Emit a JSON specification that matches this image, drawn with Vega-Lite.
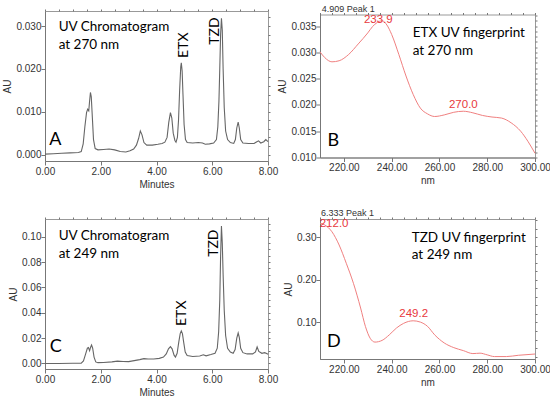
{
  "$schema": "https://vega.github.io/schema/vega-lite/v6.json",
  "background": "white",
  "padding": {"left": 2, "top": 4, "right": 0, "bottom": 0},
  "columns": 2,
  "bounds": "flush",
  "center": true,
  "spacing": {"row": 58, "column": 52},
  "datasets": {
    "chromA": [
      {"t": 0.0, "au": 0.0001}, {"t": 0.3, "au": 0.0002}, {"t": 0.6, "au": 0.0003}, {"t": 0.9, "au": 0.0004},
      {"t": 1.2, "au": 0.0005}, {"t": 1.3, "au": 0.0007}, {"t": 1.37, "au": 0.0025}, {"t": 1.43, "au": 0.0065},
      {"t": 1.49, "au": 0.0098}, {"t": 1.53, "au": 0.0106}, {"t": 1.57, "au": 0.0102}, {"t": 1.6, "au": 0.0125},
      {"t": 1.63, "au": 0.0145}, {"t": 1.66, "au": 0.0135}, {"t": 1.7, "au": 0.0085}, {"t": 1.74, "au": 0.0035},
      {"t": 1.8, "au": 0.0014}, {"t": 1.9, "au": 0.0011}, {"t": 2.1, "au": 0.0012}, {"t": 2.3, "au": 0.0013},
      {"t": 2.5, "au": 0.0011}, {"t": 2.7, "au": 0.0007}, {"t": 2.9, "au": 0.0006}, {"t": 3.05, "au": 0.0009},
      {"t": 3.18, "au": 0.0013}, {"t": 3.28, "au": 0.0022}, {"t": 3.36, "au": 0.0038}, {"t": 3.42, "au": 0.0055},
      {"t": 3.48, "au": 0.0046}, {"t": 3.55, "au": 0.0028}, {"t": 3.65, "au": 0.0022}, {"t": 3.85, "au": 0.0022},
      {"t": 4.05, "au": 0.0024}, {"t": 4.2, "au": 0.0026}, {"t": 4.3, "au": 0.0029}, {"t": 4.38, "au": 0.004},
      {"t": 4.44, "au": 0.0075}, {"t": 4.5, "au": 0.0098}, {"t": 4.55, "au": 0.0085}, {"t": 4.6, "au": 0.005},
      {"t": 4.66, "au": 0.0033}, {"t": 4.7, "au": 0.0029}, {"t": 4.75, "au": 0.004}, {"t": 4.79, "au": 0.008},
      {"t": 4.83, "au": 0.015}, {"t": 4.87, "au": 0.0205}, {"t": 4.89, "au": 0.0214}, {"t": 4.92, "au": 0.0195},
      {"t": 4.95, "au": 0.014}, {"t": 4.99, "au": 0.007}, {"t": 5.04, "au": 0.0035}, {"t": 5.1, "au": 0.0028},
      {"t": 5.3, "au": 0.0027}, {"t": 5.5, "au": 0.0028}, {"t": 5.65, "au": 0.0027}, {"t": 5.75, "au": 0.0024},
      {"t": 5.9, "au": 0.0025}, {"t": 6.05, "au": 0.0027}, {"t": 6.15, "au": 0.0035}, {"t": 6.2, "au": 0.0065},
      {"t": 6.24, "au": 0.0125}, {"t": 6.27, "au": 0.02}, {"t": 6.3, "au": 0.028}, {"t": 6.33, "au": 0.0318},
      {"t": 6.36, "au": 0.029}, {"t": 6.39, "au": 0.02}, {"t": 6.43, "au": 0.011}, {"t": 6.48, "au": 0.0055},
      {"t": 6.55, "au": 0.0035}, {"t": 6.65, "au": 0.0028}, {"t": 6.77, "au": 0.0026}, {"t": 6.83, "au": 0.0035},
      {"t": 6.88, "au": 0.0062}, {"t": 6.93, "au": 0.0076}, {"t": 6.97, "au": 0.0062}, {"t": 7.02, "au": 0.0035},
      {"t": 7.1, "au": 0.0027}, {"t": 7.3, "au": 0.0026}, {"t": 7.5, "au": 0.0026}, {"t": 7.6, "au": 0.003},
      {"t": 7.66, "au": 0.0032}, {"t": 7.74, "au": 0.0027}, {"t": 7.85, "au": 0.003}, {"t": 7.92, "au": 0.0035},
      {"t": 8.0, "au": 0.003}
    ],
    "chromC": [
      {"t": 0.0, "au": 0.0}, {"t": 0.5, "au": 0.0}, {"t": 1.0, "au": 0.0001}, {"t": 1.3, "au": 0.0002},
      {"t": 1.38, "au": 0.002}, {"t": 1.45, "au": 0.007}, {"t": 1.52, "au": 0.012}, {"t": 1.56, "au": 0.0125},
      {"t": 1.6, "au": 0.01}, {"t": 1.64, "au": 0.013}, {"t": 1.67, "au": 0.0145}, {"t": 1.71, "au": 0.012},
      {"t": 1.76, "au": 0.005}, {"t": 1.82, "au": 0.0012}, {"t": 1.9, "au": 0.0006}, {"t": 2.1, "au": 0.0007},
      {"t": 2.4, "au": 0.0012}, {"t": 2.6, "au": 0.0018}, {"t": 2.8, "au": 0.0015}, {"t": 3.0, "au": 0.0014},
      {"t": 3.2, "au": 0.0022}, {"t": 3.4, "au": 0.003}, {"t": 3.55, "au": 0.0038}, {"t": 3.7, "au": 0.0035},
      {"t": 3.9, "au": 0.0035}, {"t": 4.1, "au": 0.004}, {"t": 4.25, "au": 0.005}, {"t": 4.35, "au": 0.0075},
      {"t": 4.43, "au": 0.0115}, {"t": 4.5, "au": 0.0133}, {"t": 4.56, "au": 0.0115}, {"t": 4.63, "au": 0.0065},
      {"t": 4.68, "au": 0.005}, {"t": 4.74, "au": 0.008}, {"t": 4.8, "au": 0.017}, {"t": 4.85, "au": 0.0235},
      {"t": 4.89, "au": 0.0256}, {"t": 4.93, "au": 0.0235}, {"t": 4.98, "au": 0.016}, {"t": 5.03, "au": 0.009},
      {"t": 5.1, "au": 0.0062}, {"t": 5.3, "au": 0.0055}, {"t": 5.55, "au": 0.0058}, {"t": 5.68, "au": 0.0068},
      {"t": 5.78, "au": 0.006}, {"t": 5.95, "au": 0.007}, {"t": 6.1, "au": 0.008}, {"t": 6.18, "au": 0.012},
      {"t": 6.23, "au": 0.025}, {"t": 6.27, "au": 0.05}, {"t": 6.3, "au": 0.085}, {"t": 6.33, "au": 0.1085},
      {"t": 6.36, "au": 0.095}, {"t": 6.39, "au": 0.07}, {"t": 6.43, "au": 0.042}, {"t": 6.48, "au": 0.022},
      {"t": 6.55, "au": 0.012}, {"t": 6.65, "au": 0.009}, {"t": 6.75, "au": 0.008}, {"t": 6.82, "au": 0.011},
      {"t": 6.88, "au": 0.02}, {"t": 6.93, "au": 0.024}, {"t": 6.97, "au": 0.0205}, {"t": 7.02, "au": 0.012},
      {"t": 7.1, "au": 0.0085}, {"t": 7.25, "au": 0.0075}, {"t": 7.45, "au": 0.0075}, {"t": 7.55, "au": 0.009},
      {"t": 7.61, "au": 0.013}, {"t": 7.67, "au": 0.0095}, {"t": 7.78, "au": 0.008}, {"t": 7.88, "au": 0.0085},
      {"t": 7.95, "au": 0.0078}, {"t": 8.0, "au": 0.0072}
    ],
    "specB": [
      {"nm": 210, "au": 0.0301}, {"nm": 212, "au": 0.029}, {"nm": 215, "au": 0.0282}, {"nm": 218, "au": 0.0284},
      {"nm": 222, "au": 0.0296}, {"nm": 226, "au": 0.0316}, {"nm": 230, "au": 0.0337}, {"nm": 232, "au": 0.0349},
      {"nm": 234, "au": 0.0357}, {"nm": 236, "au": 0.036}, {"nm": 238, "au": 0.0352}, {"nm": 240, "au": 0.0334},
      {"nm": 243, "au": 0.0296}, {"nm": 246, "au": 0.0255}, {"nm": 249, "au": 0.022}, {"nm": 252, "au": 0.0194},
      {"nm": 255, "au": 0.0183}, {"nm": 258, "au": 0.0178}, {"nm": 262, "au": 0.0181}, {"nm": 266, "au": 0.0186},
      {"nm": 270, "au": 0.0188}, {"nm": 274, "au": 0.0185}, {"nm": 278, "au": 0.018}, {"nm": 282, "au": 0.0177},
      {"nm": 286, "au": 0.0175}, {"nm": 290, "au": 0.0166}, {"nm": 294, "au": 0.015}, {"nm": 297, "au": 0.0131},
      {"nm": 300, "au": 0.0108}
    ],
    "specD": [
      {"nm": 210, "au": 0.333}, {"nm": 212, "au": 0.329}, {"nm": 215, "au": 0.313}, {"nm": 218, "au": 0.282},
      {"nm": 221, "au": 0.239}, {"nm": 224, "au": 0.192}, {"nm": 227, "au": 0.134}, {"nm": 229, "au": 0.091},
      {"nm": 231, "au": 0.063}, {"nm": 233, "au": 0.054}, {"nm": 236, "au": 0.058}, {"nm": 239, "au": 0.071},
      {"nm": 242, "au": 0.087}, {"nm": 245, "au": 0.098}, {"nm": 249, "au": 0.104}, {"nm": 252, "au": 0.101},
      {"nm": 255, "au": 0.091}, {"nm": 258, "au": 0.071}, {"nm": 262, "au": 0.052}, {"nm": 266, "au": 0.041},
      {"nm": 270, "au": 0.034}, {"nm": 274, "au": 0.027}, {"nm": 277, "au": 0.028}, {"nm": 280, "au": 0.024},
      {"nm": 283, "au": 0.02}, {"nm": 288, "au": 0.02}, {"nm": 293, "au": 0.023}, {"nm": 300, "au": 0.026}
    ]
  },
  "concat": [
    {
      "width": 223, "height": 150,
      "resolve": {"axis": {"x": "independent", "y": "independent"}},
      "layer": [
        {
          "data": {"name": "chromA"},
          "mark": {"type": "line", "color": "#666666", "strokeWidth": 1.1},
          "encoding": {
            "x": {"field": "t", "type": "quantitative", "scale": {"domain": [0, 8], "nice": false, "zero": false},
                  "axis": {"values": [0, 2, 4, 6, 8], "format": ".2f", "title": "Minutes", "tickSize": 4, "labelPadding": 1, "titlePadding": 3}},
            "y": {"field": "au", "type": "quantitative", "scale": {"domain": [-0.0015, 0.0335], "nice": false, "zero": false},
                  "axis": {"values": [0, 0.01, 0.02, 0.03], "format": ".3f", "title": "AU", "tickSize": 4, "labelPadding": 0, "titlePadding": 3}}
          }
        },
        {
          "data": {"values": [{"x": 0.49, "y": 0.0297, "label": "UV Chromatogram"}, {"x": 0.49, "y": 0.02552, "label": "at 270 nm"}]},
          "mark": {"type": "text", "font": "Lato", "fontSize": 13.5, "align": "left", "baseline": "middle", "color": "#000000"},
          "encoding": {
            "x": {"field": "x", "type": "quantitative", "axis": {"values": [0, 0.5, 1, 1.5, 2, 2.5, 3, 3.5, 4, 4.5, 5, 5.5, 6, 6.5, 7, 7.5, 8], "labels": false, "domain": false, "tickSize": 2, "title": null}},
            "y": {"field": "y", "type": "quantitative", "axis": {"values": [0, 0.002, 0.004, 0.006, 0.008, 0.01, 0.012, 0.014, 0.016, 0.018, 0.02, 0.022, 0.024, 0.026, 0.028, 0.03, 0.032], "labels": false, "domain": false, "tickSize": 2, "title": null}},
            "text": {"field": "label"}
          }
        },
        {
          "data": {"values": [{"x": 0.37, "y": 0.00331, "label": "A"}]},
          "mark": {"type": "text", "font": "Lato", "fontSize": 18, "align": "center", "baseline": "middle", "color": "#000000"},
          "encoding": {
            "x": {"field": "x", "type": "quantitative", "axis": null},
            "y": {"field": "y", "type": "quantitative", "axis": null},
            "text": {"field": "label"}
          }
        },
        {
          "data": {"values": [{"x": 4.99, "y": 0.02552, "label": "ETX"}, {"x": 6.1, "y": 0.02883, "label": "TZD"}]},
          "mark": {"type": "text", "font": "Lato", "fontSize": 14, "angle": 270, "align": "center", "baseline": "middle", "color": "#000000"},
          "encoding": {
            "x": {"field": "x", "type": "quantitative", "axis": null},
            "y": {"field": "y", "type": "quantitative", "axis": null},
            "text": {"field": "label"}
          }
        }
      ]
    },
    {
      "width": 215, "height": 143,
      "resolve": {"axis": {"x": "independent", "y": "independent"}},
      "layer": [
        {
          "data": {"name": "specB"},
          "mark": {"type": "line", "color": "#f08080", "strokeWidth": 1, "interpolate": "monotone"},
          "encoding": {
            "x": {"field": "nm", "type": "quantitative", "scale": {"domain": [210, 300], "nice": false, "zero": false},
                  "axis": {"values": [220, 240, 260, 280, 300], "format": ".2f", "title": "nm", "tickSize": 4, "labelPadding": 1, "titlePadding": 3}},
            "y": {"field": "au", "type": "quantitative", "scale": {"domain": [0.01, 0.0372], "nice": false, "zero": false},
                  "axis": {"values": [0.01, 0.015, 0.02, 0.025, 0.03, 0.035], "format": ".3f", "title": "AU", "tickSize": 4, "labelPadding": 0, "titlePadding": 3}}
          }
        },
        {
          "data": {"values": [{"x": 248.8, "y": 0.0336, "label": "ETX UV fingerprint"}, {"x": 248.8, "y": 0.0302, "label": "at 270 nm"}]},
          "mark": {"type": "text", "font": "Lato", "fontSize": 13.5, "align": "left", "baseline": "middle", "color": "#000000"},
          "encoding": {
            "x": {"field": "x", "type": "quantitative", "axis": {"values": [210, 215, 220, 225, 230, 235, 240, 245, 250, 255, 260, 265, 270, 275, 280, 285, 290, 295, 300], "labels": false, "domain": false, "tickSize": 2, "title": null}},
            "y": {"field": "y", "type": "quantitative", "axis": {"values": [0.01, 0.011, 0.012, 0.013, 0.014, 0.015, 0.016, 0.017, 0.018, 0.019, 0.02, 0.021, 0.022, 0.023, 0.024, 0.025, 0.026, 0.027, 0.028, 0.029, 0.03, 0.031, 0.032, 0.033, 0.034, 0.035, 0.036, 0.037], "labels": false, "domain": false, "tickSize": 2, "title": null}},
            "text": {"field": "label"}
          }
        },
        {
          "data": {"values": [{"x": 215.6, "y": 0.01309, "label": "B"}]},
          "mark": {"type": "text", "font": "Lato", "fontSize": 18, "align": "center", "baseline": "middle", "color": "#000000"},
          "encoding": {
            "x": {"field": "x", "type": "quantitative", "axis": null},
            "y": {"field": "y", "type": "quantitative", "axis": null},
            "text": {"field": "label"}
          }
        },
        {
          "data": {"values": [{"x": 234.4, "y": 0.03615, "label": "233.9"}, {"x": 270.0, "y": 0.02005, "label": "270.0"}]},
          "mark": {"type": "text", "font": "Liberation Sans", "fontSize": 11.5, "align": "center", "baseline": "middle", "color": "#e8383d"},
          "encoding": {
            "x": {"field": "x", "type": "quantitative", "axis": null},
            "y": {"field": "y", "type": "quantitative", "axis": null},
            "text": {"field": "label"}
          }
        },
        {
          "data": {"values": [{"x": 210.7, "y": 0.0382, "label": "4.909 Peak 1"}]},
          "mark": {"type": "text", "font": "Liberation Sans", "fontSize": 9, "align": "left", "baseline": "middle", "color": "#333333"},
          "encoding": {
            "x": {"field": "x", "type": "quantitative", "axis": null},
            "y": {"field": "y", "type": "quantitative", "axis": null},
            "text": {"field": "label"}
          }
        }
      ]
    },
    {
      "width": 223, "height": 150,
      "resolve": {"axis": {"x": "independent", "y": "independent"}},
      "layer": [
        {
          "data": {"name": "chromC"},
          "mark": {"type": "line", "color": "#666666", "strokeWidth": 1.1},
          "encoding": {
            "x": {"field": "t", "type": "quantitative", "scale": {"domain": [0, 8], "nice": false, "zero": false},
                  "axis": {"values": [0, 2, 4, 6, 8], "format": ".2f", "title": "Minutes", "tickSize": 4, "labelPadding": 1, "titlePadding": 3}},
            "y": {"field": "au", "type": "quantitative", "scale": {"domain": [-0.0044, 0.114], "nice": false, "zero": false},
                  "axis": {"values": [0, 0.02, 0.04, 0.06, 0.08, 0.1], "format": ".2f", "title": "AU", "tickSize": 4, "labelPadding": 0, "titlePadding": 3}}
          }
        },
        {
          "data": {"values": [{"x": 0.49, "y": 0.1008, "label": "UV Chromatogram"}, {"x": 0.49, "y": 0.0863, "label": "at 249 nm"}]},
          "mark": {"type": "text", "font": "Lato", "fontSize": 13.5, "align": "left", "baseline": "middle", "color": "#000000"},
          "encoding": {
            "x": {"field": "x", "type": "quantitative", "axis": {"values": [0, 0.5, 1, 1.5, 2, 2.5, 3, 3.5, 4, 4.5, 5, 5.5, 6, 6.5, 7, 7.5, 8], "labels": false, "domain": false, "tickSize": 2, "title": null}},
            "y": {"field": "y", "type": "quantitative", "axis": {"values": [0, 0.005, 0.01, 0.015, 0.02, 0.025, 0.03, 0.035, 0.04, 0.045, 0.05, 0.055, 0.06, 0.065, 0.07, 0.075, 0.08, 0.085, 0.09, 0.095, 0.1, 0.105, 0.11], "labels": false, "domain": false, "tickSize": 2, "title": null}},
            "text": {"field": "label"}
          }
        },
        {
          "data": {"values": [{"x": 0.39, "y": 0.0129, "label": "C"}]},
          "mark": {"type": "text", "font": "Lato", "fontSize": 18, "align": "center", "baseline": "middle", "color": "#000000"},
          "encoding": {
            "x": {"field": "x", "type": "quantitative", "axis": null},
            "y": {"field": "y", "type": "quantitative", "axis": null},
            "text": {"field": "label"}
          }
        },
        {
          "data": {"values": [{"x": 4.91, "y": 0.0396, "label": "ETX"}, {"x": 6.05, "y": 0.0949, "label": "TZD"}]},
          "mark": {"type": "text", "font": "Lato", "fontSize": 14, "angle": 270, "align": "center", "baseline": "middle", "color": "#000000"},
          "encoding": {
            "x": {"field": "x", "type": "quantitative", "axis": null},
            "y": {"field": "y", "type": "quantitative", "axis": null},
            "text": {"field": "label"}
          }
        }
      ]
    },
    {
      "width": 215, "height": 140,
      "resolve": {"axis": {"x": "independent", "y": "independent"}},
      "layer": [
        {
          "data": {"name": "specD"},
          "mark": {"type": "line", "color": "#f08080", "strokeWidth": 1, "interpolate": "monotone"},
          "encoding": {
            "x": {"field": "nm", "type": "quantitative", "scale": {"domain": [210, 300], "nice": false, "zero": false},
                  "axis": {"values": [220, 240, 260, 280, 300], "format": ".2f", "title": "nm", "tickSize": 4, "labelPadding": 1, "titlePadding": 3}},
            "y": {"field": "au", "type": "quantitative", "scale": {"domain": [0.0143, 0.343], "nice": false, "zero": false},
                  "axis": {"values": [0.1, 0.2, 0.3], "format": ".2f", "title": "AU", "tickSize": 4, "labelPadding": 0, "titlePadding": 3}}
          }
        },
        {
          "data": {"values": [{"x": 248.4, "y": 0.2992, "label": "TZD UV fingerprint"}, {"x": 248.4, "y": 0.2586, "label": "at 249 nm"}]},
          "mark": {"type": "text", "font": "Lato", "fontSize": 13.5, "align": "left", "baseline": "middle", "color": "#000000"},
          "encoding": {
            "x": {"field": "x", "type": "quantitative", "axis": {"values": [210, 215, 220, 225, 230, 235, 240, 245, 250, 255, 260, 265, 270, 275, 280, 285, 290, 295, 300], "labels": false, "domain": false, "tickSize": 2, "title": null}},
            "y": {"field": "y", "type": "quantitative", "axis": {"values": [0.02, 0.04, 0.06, 0.08, 0.1, 0.12, 0.14, 0.16, 0.18, 0.2, 0.22, 0.24, 0.26, 0.28, 0.3, 0.32, 0.34], "labels": false, "domain": false, "tickSize": 2, "title": null}},
            "text": {"field": "label"}
          }
        },
        {
          "data": {"values": [{"x": 215.8, "y": 0.0551, "label": "D"}]},
          "mark": {"type": "text", "font": "Lato", "fontSize": 18, "align": "center", "baseline": "middle", "color": "#000000"},
          "encoding": {
            "x": {"field": "x", "type": "quantitative", "axis": null},
            "y": {"field": "y", "type": "quantitative", "axis": null},
            "text": {"field": "label"}
          }
        },
        {
          "data": {"values": [{"x": 215.9, "y": 0.3305, "label": "212.0"}, {"x": 249.2, "y": 0.1195, "label": "249.2"}]},
          "mark": {"type": "text", "font": "Liberation Sans", "fontSize": 11.5, "align": "center", "baseline": "middle", "color": "#e8383d"},
          "encoding": {
            "x": {"field": "x", "type": "quantitative", "axis": null},
            "y": {"field": "y", "type": "quantitative", "axis": null},
            "text": {"field": "label"}
          }
        },
        {
          "data": {"values": [{"x": 210.4, "y": 0.3563, "label": "6.333 Peak 1"}]},
          "mark": {"type": "text", "font": "Liberation Sans", "fontSize": 9, "align": "left", "baseline": "middle", "color": "#333333"},
          "encoding": {
            "x": {"field": "x", "type": "quantitative", "axis": null},
            "y": {"field": "y", "type": "quantitative", "axis": null},
            "text": {"field": "label"}
          }
        }
      ]
    }
  ],
  "config": {
    "view": {"stroke": "#999999", "strokeWidth": 1},
    "axis": {
      "labelFont": "Liberation Sans", "labelFontSize": 10, "labelColor": "#333333",
      "titleFont": "Liberation Sans", "titleFontSize": 10, "titleFontWeight": "normal", "titleColor": "#333333",
      "domainColor": "#777777", "tickColor": "#777777", "grid": false, "labelFlush": false, "labelOverlap": false
    }
  }
}
